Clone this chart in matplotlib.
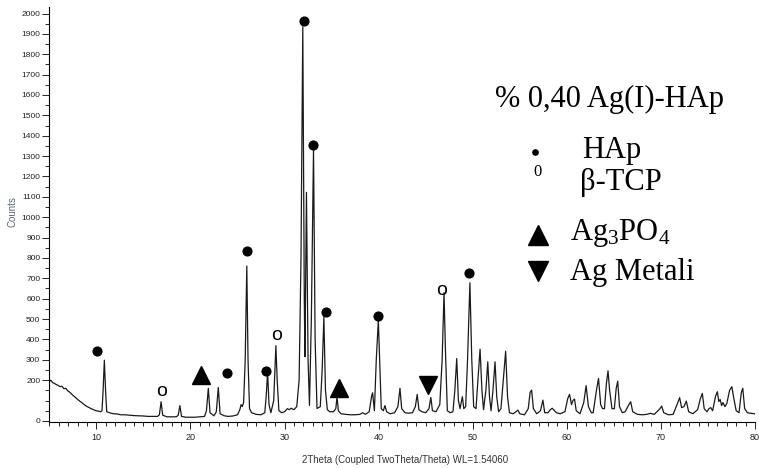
import matplotlib
matplotlib.use("Agg")
import matplotlib.pyplot as plt
from matplotlib.lines import Line2D
from matplotlib.ticker import MultipleLocator, FixedLocator

plt.rcParams['mathtext.fontset'] = 'custom'
plt.rcParams['mathtext.rm'] = 'Liberation Serif'
plt.rcParams['mathtext.it'] = 'Liberation Serif:italic'

# ---- XRD trace (vertices) ----
two_theta = [
    5.00, 5.15, 5.35, 5.55, 5.75, 5.95, 6.15, 6.35, 6.55, 6.75, 6.95, 7.20, 7.45, 7.70, 7.95,
    8.20, 8.45, 8.70, 8.95, 9.20, 9.45, 9.70, 9.95, 10.20, 10.45, 10.60, 10.72, 10.85, 10.98, 11.10,
    11.40, 11.80, 12.20, 12.60, 13.00, 13.50, 14.00, 14.50, 15.00, 15.50, 16.00, 16.50, 16.70, 16.88, 17.05,
    17.50, 18.00, 18.50, 18.70, 18.88, 19.05, 19.50, 20.00, 20.50, 21.00, 21.50, 21.70, 21.90, 22.08, 22.50,
    22.75, 22.96, 23.15, 23.60, 24.00, 24.50, 25.00, 25.25, 25.38, 25.51, 25.65, 25.82, 25.99, 26.12, 26.28,
    26.50, 27.00, 27.50, 27.90, 28.05, 28.20, 28.35, 28.55, 28.85, 29.08, 29.22, 29.40, 29.70, 30.00, 30.30,
    30.50, 30.70, 31.00, 31.30, 31.55, 31.75, 31.94, 32.10, 32.17, 32.33, 32.50, 32.65, 32.85, 33.08, 33.25,
    33.45, 33.80, 34.00, 34.18, 34.35, 34.55, 34.80, 35.20, 35.45, 35.58, 35.72, 36.00, 36.50, 37.00, 37.50,
    38.00, 38.30, 38.60, 39.00, 39.25, 39.36, 39.55, 39.75, 39.97, 40.12, 40.28, 40.50, 40.67, 40.85, 41.20,
    41.70, 42.05, 42.27, 42.45, 42.80, 43.20, 43.60, 43.90, 44.10, 44.28, 44.60, 45.00, 45.35, 45.55, 45.72,
    46.10, 46.50, 46.75, 46.95, 47.10, 47.30, 47.60, 47.90, 48.10, 48.30, 48.48, 48.65, 48.90, 49.05, 49.25,
    49.45, 49.70, 49.90, 50.10, 50.35, 50.55, 50.78, 50.98, 51.15, 51.40, 51.60, 51.78, 51.95, 52.15, 52.37,
    52.55, 52.75, 53.00, 53.25, 53.50, 53.70, 53.90, 54.30, 54.60, 54.80, 55.00, 55.50, 55.90, 56.10, 56.26,
    56.45, 56.80, 57.20, 57.46, 57.65, 58.00, 58.25, 58.45, 58.70, 58.90, 59.30, 59.80, 60.10, 60.29, 60.50,
    60.65, 60.82, 61.00, 61.40, 61.80, 62.05, 62.30, 62.60, 62.80, 63.15, 63.37, 63.60, 63.80, 64.00, 64.20,
    64.38, 64.55, 64.80, 65.05, 65.25, 65.41, 65.60, 65.90, 66.20, 66.60, 66.79, 67.00, 67.50, 68.00, 68.50,
    68.90, 69.30, 69.90, 70.08, 70.30, 70.80, 71.30, 71.80, 71.99, 72.20, 72.45, 72.70, 72.95, 73.40, 73.90,
    74.20, 74.40, 74.60, 74.90, 75.10, 75.30, 75.50, 75.80, 76.00, 76.15, 76.30, 76.45, 76.60, 76.80, 77.00,
    77.30, 77.54, 77.75, 78.00, 78.30, 78.55, 78.70, 78.90, 79.20, 79.60, 80.00,
]
counts = [
    192, 200, 188, 184, 178, 174, 168, 170, 158, 160, 148, 140, 128, 118, 108,
    98, 90, 80, 72, 66, 60, 55, 50, 48, 45, 50, 150, 298, 150, 45,
    40, 35, 34, 30, 30, 28, 26, 25, 24, 22, 22, 22, 30, 94, 28,
    20, 20, 20, 28, 75, 22, 18, 18, 18, 20, 22, 50, 160, 40, 25,
    45, 164, 35, 25, 22, 24, 30, 55, 80, 70, 90, 300, 760, 300, 60,
    40, 32, 30, 40, 120, 241, 80, 40, 100, 369, 200, 50, 40, 45, 60,
    55, 62, 55, 70, 200, 800, 1935, 600, 315, 1122, 300, 76, 500, 1333, 400,
    61, 70, 250, 511, 150, 55, 45, 45, 60, 119, 50, 35, 32, 30, 30,
    32, 40, 32, 45, 120, 138, 50, 300, 494, 280, 60, 50, 75, 45, 35,
    40, 70, 160, 60, 40, 38, 40, 70, 130, 55, 45, 40, 60, 115, 50,
    45, 80, 300, 630, 350, 50, 40, 45, 150, 306, 100, 60, 119, 60, 70,
    300, 678, 300, 70, 60, 200, 352, 150, 55, 150, 290, 120, 50, 150, 290,
    120, 45, 60, 200, 342, 120, 40, 35, 45, 53, 35, 30, 60, 140, 151,
    60, 35, 50, 102, 40, 40, 55, 62, 50, 40, 35, 45, 110, 130, 80,
    100, 107, 50, 35, 90, 173, 70, 40, 40, 150, 208, 80, 60, 60, 180,
    246, 150, 60, 60, 160, 195, 70, 40, 45, 80, 94, 45, 32, 30, 32,
    37, 32, 60, 73, 40, 30, 32, 90, 114, 65, 70, 97, 45, 35, 55,
    110, 135, 60, 45, 60, 65, 50, 120, 143, 95, 105, 75, 90, 70, 85,
    150, 168, 110, 50, 40, 140, 160, 60, 40, 37, 35,
]

# ---- phase markers (positions) ----
hap_x = [10.07, 23.84, 26.03, 28.01, 32.05, 33.07, 34.42, 39.96, 49.65]
hap_y = [341, 233, 834, 243, 1964, 1354, 535, 515, 726]
tcp_x = [16.92, 29.15, 46.72]
tcp_y = [146, 418, 641]
ag3po4_x = [21.16, 35.83]
ag3po4_y = [225, 160]
agmet_x = [45.30]
agmet_y = [176]

x_ticks = [10, 20, 30, 40, 50, 60, 70, 80]
y_ticks = [0, 200, 300, 400, 500, 600, 700, 800, 900, 1000, 1100, 1200, 1300,
           1400, 1500, 1600, 1700, 1800, 1900, 2000]

title_text = "% 0,40 Ag(I)-HAp"
legend_labels = ["HAp", "β-TCP", "Ag$_\\mathregular{3}$PO$_\\mathregular{4}$", "Ag Metali"]

W, H = 759, 468
fig = plt.figure(figsize=(W / 100, H / 100), dpi=100)
ax = fig.add_axes([49.3 / W, 1 - 421.7 / H, (755 - 49.3) / W, (421.7 - 7) / H])

ax.plot(two_theta, counts, color='#1a1a1a', lw=0.9)

ax.plot(hap_x, hap_y, 'o', color='black', ms=6.3, ls='none')
for x, y in zip(tcp_x, tcp_y):
    ax.text(x, y, 'o', family='Liberation Sans', fontsize=14, ha='center', va='center')
ax.plot(ag3po4_x, ag3po4_y, '^', color='black', ms=13, ls='none')
ax.plot(agmet_x, agmet_y, 'v', color='black', ms=13, ls='none')

ax.set_xlim(5, 80)
ax.set_ylim(-4, 2032)
for s in ['top', 'right']:
    ax.spines[s].set_visible(False)
ax.spines['left'].set_linewidth(0.8)
ax.spines['bottom'].set_linewidth(0.8)

ax.xaxis.set_major_locator(FixedLocator(x_ticks))
ax.xaxis.set_minor_locator(MultipleLocator(1))
ax.yaxis.set_major_locator(FixedLocator(y_ticks))
ax.yaxis.set_minor_locator(MultipleLocator(50))
ax.tick_params(axis='both', which='major', length=5, width=0.7, labelsize=6,
               labelfontfamily='Liberation Sans', colors='#222222', pad=1.5)
ax.tick_params(axis='both', which='minor', length=3, width=0.6)
ax.tick_params(axis='x', which='major', labelsize=6.5, pad=3)

# ---- axis titles placed at their pixel positions ----
W_, H_ = W, H
fig.text(405 / W_, 1 - 460 / H_, "2Theta (Coupled TwoTheta/Theta) WL=1.54060",
         family='Liberation Sans', fontsize=7, color='#333333', ha='center', va='center')
fig.text(13 / W_, 1 - 212 / H_, "Counts", family='Liberation Sans', fontsize=7,
         color='#5a6470', ha='center', va='center', rotation=90)

# ---- legend block ----
def fx(px):
    return px / W

def fy(py):
    return 1 - py / H

serif = 'Liberation Serif'
fig.text(fx(495), fy(107), title_text, family=serif, fontsize=22, va='baseline', ha='left')
fig.add_artist(Line2D([fx(535)], [fy(152)], transform=fig.transFigure, marker='o', ms=3.8,
                      color='black', ls='none'))
fig.text(fx(582), fy(158), legend_labels[0], family=serif, fontsize=22, va='baseline')
fig.text(fx(537), fy(176), "0", family=serif, fontsize=12, va='baseline', ha='center')
fig.text(fx(580), fy(190), legend_labels[1], family=serif, fontsize=22, va='baseline')
fig.add_artist(Line2D([fx(537.5)], [fy(235)], transform=fig.transFigure, marker='^', ms=15,
                      color='black', ls='none'))
fig.text(fx(570), fy(240), legend_labels[2], family=serif, fontsize=22, va='baseline')
fig.add_artist(Line2D([fx(537.5)], [fy(271)], transform=fig.transFigure, marker='v', ms=15,
                      color='black', ls='none'))
fig.text(fx(570), fy(280), legend_labels[3], family=serif, fontsize=22, va='baseline')

fig.savefig("out.png", dpi=100)
